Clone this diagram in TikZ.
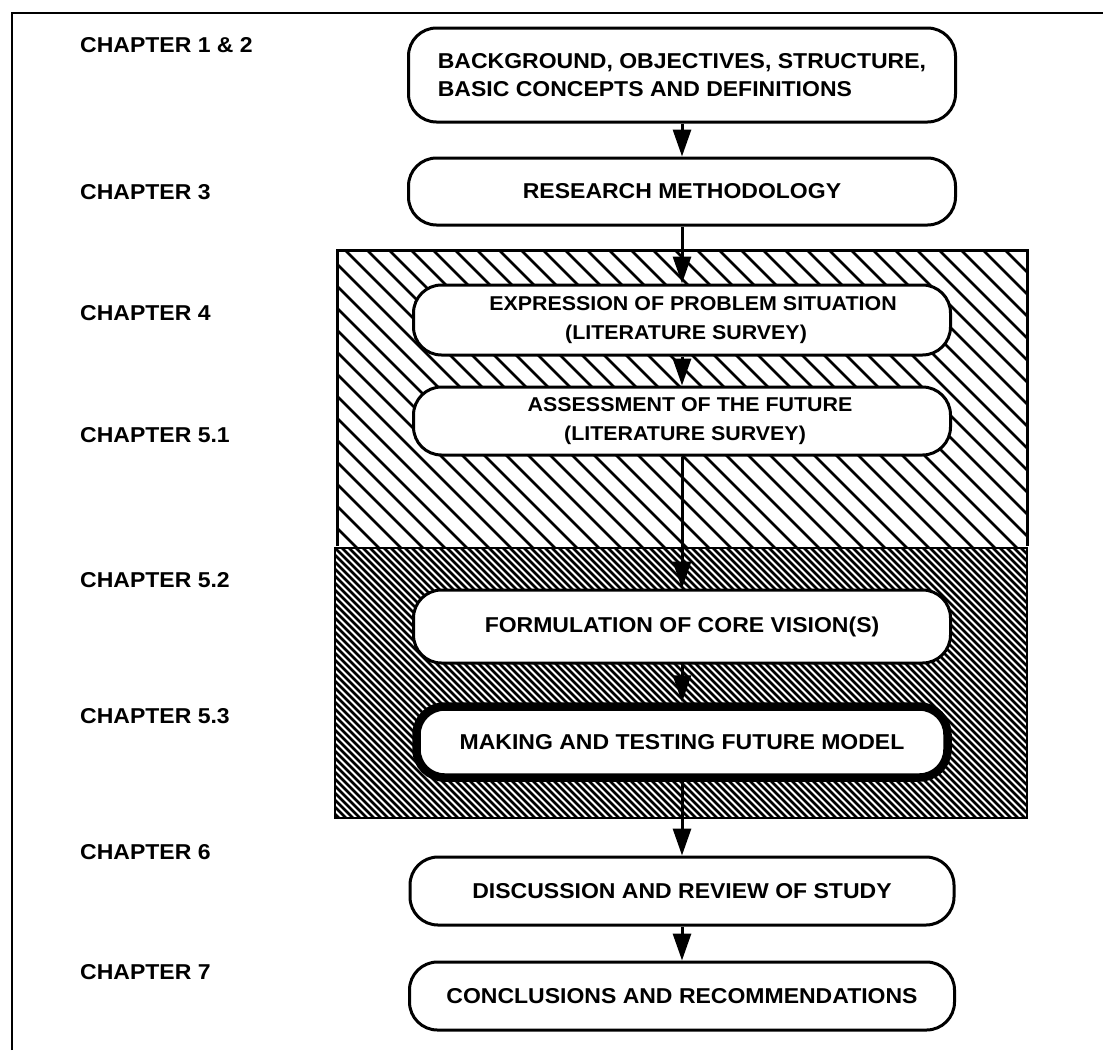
\documentclass[tikz,border=0pt]{standalone}
\usepackage{fontspec}
\setmainfont{Liberation Sans}[FakeStretch=1.07]
\usetikzlibrary{arrows.meta}
\begin{document}
\begin{tikzpicture}[x=1pt,y=-1pt,
  txt/.style={font=\bfseries\fontsize{21.5}{28}\selectfont},
  smalltxt/.style={font=\bfseries\fontsize{20}{29}\selectfont},
  box/.style={txt, draw, line width=3pt, fill=white, rounded corners=28pt,
    minimum width=540pt, align=center, inner sep=0pt},
  thickbox/.style={box, line width=8.5pt},
  chap/.style={txt, anchor=west, inner sep=0pt},
  flow/.style={line width=3pt, -{Triangle[length=27pt,width=18pt]}},
  hatchA/.style={line width=2.6pt},
  hatchB/.style={line width=2.5pt},
]
\useasboundingbox (0,0) rectangle (1103,1050);
% outer frame
\draw[line width=2.5pt] (12,1050) -- (12,13) -- (1103,13);

% sparse hatched region
\begin{scope}
  \clip (337,250) rectangle (1027,546);
  \foreach \a in {0,22,...,1012} \draw[hatchA] (37+\a,250) -- ++(300,300);
\end{scope}
\draw[line width=3pt] (337,546) -- (337,250) -- (1027,250) -- (1027,546);

% dense hatched region
\begin{scope}
  \clip (335,548) rectangle (1027,818);
  \foreach \a in {0,7,...,1000} \draw[hatchB] (55+\a,548) -- ++(280,280);
\end{scope}
\draw[line width=2.5pt] (335,548) rectangle (1027,818);

% chapter labels
\node[chap] (c1) at (80,45)  {CHAPTER 1 \& 2};
\node[chap] (c2) at (80,192) {CHAPTER 3};
\node[chap] (c3) at (80,313) {CHAPTER 4};
\node[chap] (c4) at (80,435) {CHAPTER 5.1};
\node[chap] (c5) at (80,580) {CHAPTER 5.2};
\node[chap] (c6) at (80,716) {CHAPTER 5.3};
\node[chap] (c7) at (80,852) {CHAPTER 6};
\node[chap] (c8) at (80,972) {CHAPTER 7};

% boxes
\node[box, align=left, minimum width=547pt, minimum height=94pt] (b1) at (682,75)
  {BACKGROUND, OBJECTIVES, STRUCTURE,\\BASIC CONCEPTS AND DEFINITIONS};
\node[box, minimum width=547pt, minimum height=67pt] (b2) at (682,191.5) {RESEARCH METHODOLOGY};
\node[box, smalltxt, minimum width=537pt, minimum height=70pt] (b3) at (682,320)
  {\hspace*{22pt}EXPRESSION OF PROBLEM SITUATION\\\hspace*{8pt}(LITERATURE SURVEY)};
\node[box, smalltxt, minimum width=537pt, minimum height=68pt] (b4) at (682,421)
  {\hspace*{16pt}ASSESSMENT OF THE FUTURE\\\hspace*{6pt}(LITERATURE SURVEY)};
\node[box, minimum width=537pt, minimum height=73pt] (b5) at (682,626.5) {FORMULATION OF CORE VISION(S)};
\node[thickbox, minimum width=531pt, minimum height=71pt] (b6) at (682,742) {MAKING AND TESTING FUTURE MODEL};
\node[box, minimum width=544pt, minimum height=68pt] (b7) at (682,891) {DISCUSSION AND REVIEW OF STUDY};
\node[box, minimum width=545pt, minimum height=68pt] (b8) at (682,996) {CONCLUSIONS AND RECOMMENDATIONS};

% connectors
\draw[flow] (b1) -- (b2);
\draw[flow] (b2) -- (b3);
\draw[flow] (b3) -- (b4);
\draw[flow] (b4) -- (b5);
\draw[flow] (b5) -- (b6);
\draw[flow] (b6) -- (b7);
\draw[flow] (b7) -- (b8);
\end{tikzpicture}
\end{document}
